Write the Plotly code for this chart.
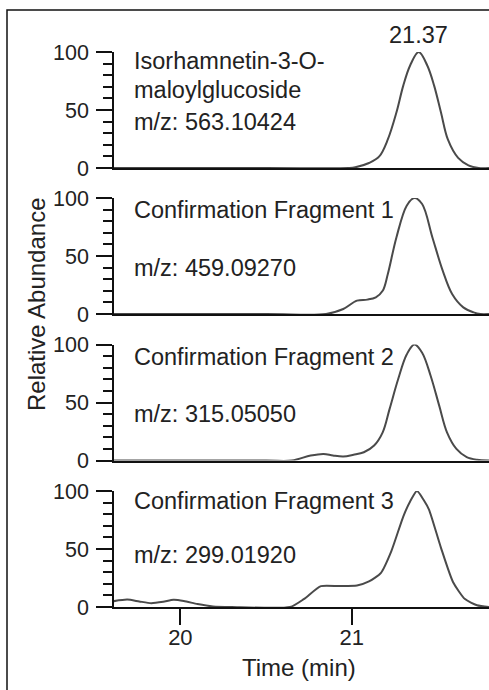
import plotly.graph_objects as go

# ---------------- data ----------------
time_p1 = [19.61, 20.50, 20.98, 21.02, 21.10, 21.16, 21.21, 21.26, 21.30, 21.34, 21.39,
           21.44, 21.48, 21.52, 21.56, 21.62, 21.68, 21.74, 21.80]
abund_p1 = [0, 0, 0, 0.6, 4.3, 10, 24.6, 47.8, 71, 88.4, 100,
            88.4, 71, 47.8, 24.6, 8.7, 2.3, 0, 0]

time_p2 = [19.61, 20.50, 20.85, 20.95, 21.03, 21.09, 21.14, 21.18, 21.21, 21.26, 21.32,
           21.365, 21.41, 21.47, 21.53, 21.585, 21.65, 21.71, 21.75, 21.80]
abund_p2 = [0, 0, 0, 4.3, 11.5, 12.4, 14.4, 20, 34.5, 66, 93.4,
            100, 94.8, 66, 37.4, 17.2, 5.7, 1.4, 0, 0]

time_p3 = [19.61, 20.50, 20.65, 20.76, 20.835, 20.89, 20.95, 21.01, 21.07, 21.13, 21.18,
           21.22, 21.27, 21.32, 21.365, 21.41, 21.46, 21.51, 21.555, 21.61, 21.67, 21.73, 21.80]
abund_p3 = [0, 0, 0, 4.3, 5.7, 4.3, 3.4, 4.9, 7.1, 12.9, 24.3,
            44.3, 70, 91.4, 100, 92.9, 72.9, 47.1, 24.3, 10, 2.9, 0.6, 0]

time_p4 = [19.61, 19.69, 19.76, 19.83, 19.90, 19.96, 20.02, 20.10, 20.19, 20.30, 20.64,
           20.72, 20.82, 20.93, 21.03, 21.10, 21.17, 21.23, 21.30, 21.34, 21.38, 21.42,
           21.45, 21.52, 21.59, 21.66, 21.73, 21.80]
abund_p4 = [5.0, 6.4, 4.8, 3.3, 4.5, 6.2, 5.2, 2.5, 0.5, 0, 0,
            6.8, 18, 18, 18.5, 22, 29.5, 48, 78, 91, 100, 92,
            84, 51, 21.6, 6.8, 1.5, 0]

panel_title_lines = [["Isorhamnetin-3-O-", "maloylglucoside"], ["Confirmation Fragment 1"],
                     ["Confirmation Fragment 2"], ["Confirmation Fragment 3"]]
panel_mz = ["m/z: 563.10424", "m/z: 459.09270", "m/z: 315.05050", "m/z: 299.01920"]
peak_label = "21.37"
x_tick_vals = [20, 21]
y_tick_vals = [0, 50, 100]
x_title = "Time (min)"
y_title = "Relative Abundance"

# ---------------- layout geometry ----------------
W, H = 489, 690
ML, MR, MT, MB = 114, 0, 52, 83
PH = H - MT - MB          # 555
x_range = [19.613, 21.80]
domains = [[439 / PH, 1.0], [293 / PH, 409 / PH], [146.5 / PH, 262.5 / PH], [0.0, 116 / PH]]

FONT = "Liberation Sans, Arial, sans-serif"
TXT = "#222222"
LINE = "#4a4a4a"

times = [time_p1, time_p2, time_p3, time_p4]
abunds = [abund_p1, abund_p2, abund_p3, abund_p4]

fig = go.Figure()
for i in range(4):
    sfx = "" if i == 0 else str(i + 1)
    fig.add_trace(go.Scatter(
        x=times[i], y=abunds[i], xaxis="x" + sfx, yaxis="y" + sfx,
        mode="lines",
        line=dict(color=LINE, width=2, shape="spline", smoothing=0.6 if i == 3 else 1.0),
        showlegend=False, hoverinfo="skip"))

layout = dict(
    width=W, height=H,
    margin=dict(l=ML, r=MR, t=MT, b=MB, pad=0),
    paper_bgcolor="white", plot_bgcolor="white",
    font=dict(family=FONT, color=TXT, size=22),
    showlegend=False,
)

for i in range(4):
    sfx = "" if i == 0 else str(i + 1)
    last = (i == 3)
    layout["xaxis" + sfx] = dict(
        anchor="y" + sfx, domain=[0, 1], range=x_range,
        showline=True, linecolor="#111111", linewidth=2,
        showgrid=False, zeroline=False,
        ticks="outside" if last else "",
        tickvals=x_tick_vals if last else [],
        ticklen=16, tickwidth=1.5, tickcolor="#111111",
        showticklabels=last, tickfont=dict(size=22, color=TXT),
        ticklabelstandoff=-6,
        matches=None if i == 0 else "x",
    )
    layout["yaxis" + sfx] = dict(
        anchor="x" + sfx, domain=domains[i], range=[0, 100],
        showline=True, linecolor="#111111", linewidth=1.5,
        showgrid=False, zeroline=False,
        tickvals=y_tick_vals, ticks="outside", ticklen=16, tickwidth=1.5,
        tickcolor="#111111", tickfont=dict(size=21.5, color=TXT),
        ticklabelstandoff=3,
        minor=dict(dtick=10, ticks="outside", ticklen=9, tickwidth=1.5,
                   tickcolor="#111111", showgrid=False),
    )

text_x = 19.716
title_y = [[92, 67], [89.5], [89], [91.5]]
mz_y = [40, 40, 40, 45]
annotations = []
for i in range(4):
    sfx = "" if i == 0 else str(i + 1)
    for line_txt, yy in zip(panel_title_lines[i], title_y[i]):
        annotations.append(dict(x=text_x, y=yy, xref="x" + sfx, yref="y" + sfx,
                                text=line_txt, showarrow=False, xanchor="left",
                                yanchor="middle", font=dict(size=23.5, color=TXT)))
    annotations.append(dict(x=text_x, y=mz_y[i], xref="x" + sfx, yref="y" + sfx,
                            text=panel_mz[i], showarrow=False, xanchor="left",
                            yanchor="middle", font=dict(size=23.5, color=TXT)))

# peak retention-time label above the top trace maximum
pk = abund_p1.index(max(abund_p1))
annotations.append(dict(x=time_p1[pk], y=abund_p1[pk], xref="x", yref="y", text=peak_label,
                        showarrow=False, xanchor="center", yanchor="bottom", yshift=2,
                        font=dict(size=23.5, color=TXT)))
# axis titles
annotations.append(dict(x=(298.5 - ML) / (W - ML - MR), y=(MT + PH - 667) / PH,
                        xref="paper", yref="paper", text=x_title, showarrow=False,
                        xanchor="center", yanchor="middle", font=dict(size=24, color=TXT)))
annotations.append(dict(x=(36 - ML) / (W - ML - MR), y=(MT + PH - 304) / PH,
                        xref="paper", yref="paper", text=y_title, showarrow=False,
                        textangle=-90, xanchor="center", yanchor="middle",
                        font=dict(size=24, color=TXT)))
layout["annotations"] = annotations

# outer frame (cut off at right and bottom in the reference)
layout["shapes"] = [dict(type="rect", xref="paper", yref="paper",
                         x0=(7 - ML) / (W - ML - MR), x1=1.05,
                         y0=-0.3, y1=(MT + PH - 10) / PH,
                         line=dict(color="#111111", width=1.5), fillcolor="rgba(0,0,0,0)",
                         layer="above")]

fig.update_layout(**layout)
fig.write_html("out.html", config={"displayModeBar": False},
               post_script="document.body.style.margin='0px';")
